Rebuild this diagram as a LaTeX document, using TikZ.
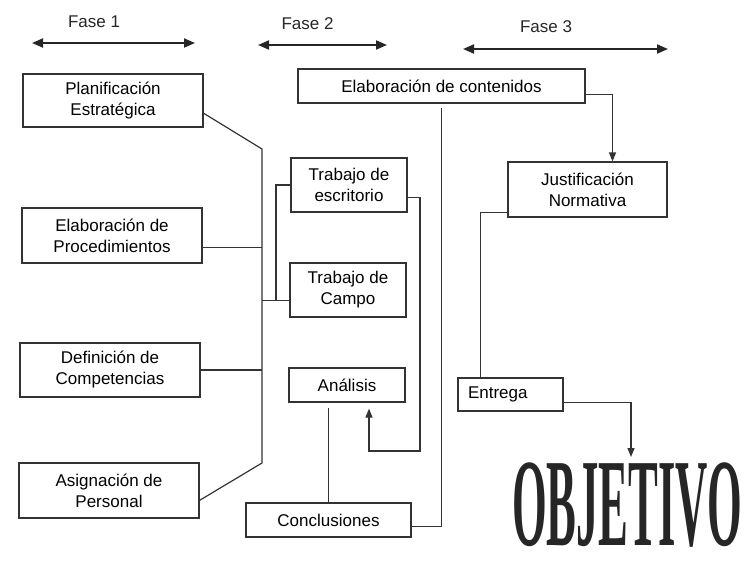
\documentclass[tikz,border=0pt]{standalone}
\usepackage{fontspec}
\usepackage{graphicx}
\setmainfont{Liberation Sans}
\newfontfamily\letrero{Liberation Serif}
\usetikzlibrary{arrows.meta,calc}

\begin{document}
\begin{tikzpicture}[x=1pt,y=1pt,yscale=-1,xscale=1,
	caja/.style={draw=black!80,line width=1.2pt,align=center,inner sep=0pt,font=\fontsize{17}{21}\selectfont},
	linea/.style={draw=black!80,line width=1.2pt},
	flecha/.style={linea,-{Triangle[length=9pt,width=7pt]}},
	fase/.style={draw=black!85,line width=2pt,{Triangle[length=11pt,width=9pt]}-{Triangle[length=11pt,width=9pt]}},
	rotulo/.style={inner sep=0pt,font=\fontsize{17}{21}\selectfont,text=black!85}]
	\useasboundingbox (0,0) rectangle (756,573);

	% fases
	\node [rotulo] (f1) at (94,22) {Fase 1};
	\node [rotulo] (f2) at (307.5,24) {Fase 2};
	\node [rotulo] (f3) at (546,27) {Fase 3};
	\draw [fase] (32,43) -- (195,43);
	\draw [fase] (258,45) -- (387,45);
	\draw [fase] (463,49) -- (668,49);

	% fase 1
	\node [caja,minimum width=180,minimum height=53] (plan) at (113,100.5) {Planificación\\Estratégica};
	\node [caja,minimum width=180,minimum height=55] (proc) at (112,235.5) {Elaboración de\\Procedimientos};
	\node [caja,minimum width=180,minimum height=54] (comp) at (110,370) {Definición de\\Competencias};
	\node [caja,minimum width=180,minimum height=55] (pers) at (109,490.5) {Asignación de\\Personal};

	% fase 2
	\node [caja,minimum width=287,minimum height=34] (cont) at (441.5,86) {Elaboración de contenidos};
	\node [caja,minimum width=116,minimum height=54] (escr) at (349,185) {Trabajo de\\escritorio};
	\node [caja,minimum width=116,minimum height=54] (campo) at (348,290) {Trabajo de\\Campo};
	\node [caja,minimum width=116,minimum height=34] (anal) at (347,385) {Análisis};
	\node [caja,minimum width=165,minimum height=34] (concl) at (328.5,520) {Conclusiones};

	% fase 3
	\node [caja,minimum width=159,minimum height=55] (just) at (587.5,189.5) {Justificación\\Normativa};
	\node [caja,minimum width=105,minimum height=33,text width=85,align=left] (entr) at (510.5,394.5) {Entrega};
	\node [anchor=base west,inner sep=0pt,text=black!85] (obj) at (512,545) {\scalebox{0.357}[1]{\letrero\bfseries\fontsize{125}{125}\selectfont OBJETIVO}};

	\coordinate (b1) at (262,149);
	\coordinate (b2) at (262,463);
	\coordinate (b3) at (276,300);
	\coordinate (r1) at (420,451);
	\coordinate (meta) at (631,457);

	\draw [linea] ($(plan.east)!0.47!(plan.south east)$) -- (b1) -- (b2) -- ($(pers.east)!0.35!(pers.south east)$);
	\draw [linea] ($(proc.east)!0.42!(proc.south east)$) coordinate (p1) -- (p1 -| b1);
	\draw [linea] (comp.east) -- (comp.east -| b1);
	\draw [linea] (escr.west) -| (b3);
	\draw [linea] ($(campo.west)!0.37!(campo.south west)$) coordinate (c1) -- (c1 -| b1);
	\draw [flecha,shorten >=6pt] ($(escr.east)!0.44!(escr.south east)$) -| (r1) -| ([xshift=22pt]anal.south);
	\draw [linea,shorten >=5pt] (concl.north) -- (concl.north |- anal.south);
	\draw [linea,shorten >=4pt] ($(concl.east)!0.35!(concl.south east)$) -| (cont.south);
	\draw [flecha] ($(cont.east)!0.47!(cont.south east)$) -| ([xshift=25pt]just.north);
	\draw [linea] ($(just.west)!0.82!(just.south west)$) -| ([xshift=-30pt]entr.north);
	\draw [flecha] ($(entr.east)!0.45!(entr.south east)$) -| (meta);
\end{tikzpicture}
\end{document}
